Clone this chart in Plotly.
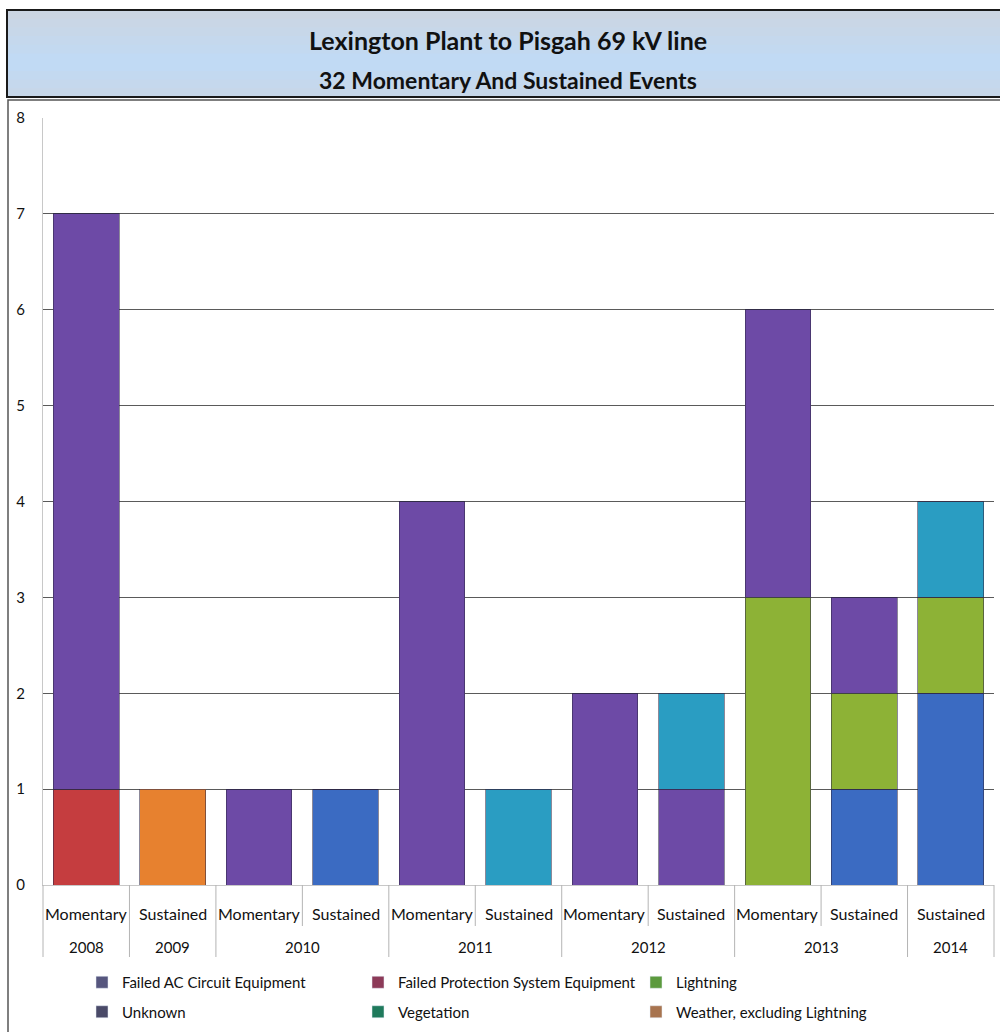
import itertools
import plotly.graph_objects as go

# ---- data -------------------------------------------------------------
years = ["2008", "2009", "2010", "2010", "2011", "2011",
         "2012", "2012", "2013", "2013", "2014"]
event_types = ["Momentary", "Sustained", "Momentary", "Sustained", "Momentary",
               "Sustained", "Momentary", "Sustained", "Momentary", "Sustained",
               "Sustained"]

failed_ac = [0, 0, 0, 1, 0, 0, 0, 0, 0, 1, 2]
failed_protection = [1, 0, 0, 0, 0, 0, 0, 0, 0, 0, 0]
lightning = [0, 0, 0, 0, 0, 0, 0, 0, 3, 1, 1]
unknown = [6, 0, 1, 0, 4, 0, 2, 1, 3, 1, 0]
vegetation = [0, 0, 0, 0, 0, 1, 0, 1, 0, 0, 1]
weather = [0, 1, 0, 0, 0, 0, 0, 0, 0, 0, 0]

cause_names = ["Failed AC Circuit Equipment", "Failed Protection System Equipment",
               "Lightning", "Unknown", "Vegetation", "Weather, excluding Lightning"]
cause_values = [failed_ac, failed_protection, lightning, unknown, vegetation, weather]

y_ticks = [0, 1, 2, 3, 4, 5, 6, 7, 8]

# ---- styling ----------------------------------------------------------
bar_colors = {
    "Failed AC Circuit Equipment": "#3b6bc2",
    "Failed Protection System Equipment": "#c53d3f",
    "Lightning": "#8db236",
    "Unknown": "#6d4aa6",
    "Vegetation": "#2a9dc2",
    "Weather, excluding Lightning": "#e7812f",
}
swatch_colors = {
    "Failed AC Circuit Equipment": "#56567e",
    "Failed Protection System Equipment": "#8c3a58",
    "Lightning": "#5c9a3e",
    "Unknown": "#4a4a68",
    "Vegetation": "#1f7a5c",
    "Weather, excluding Lightning": "#a8744f",
}
legend_columns = [
    ["Failed AC Circuit Equipment", "Unknown"],
    ["Failed Protection System Equipment", "Vegetation"],
    ["Lightning", "Weather, excluding Lightning"],
]
FONT = "Lato"

W, H = 1000, 1032
PLOT_L, PLOT_R, PLOT_T, PLOT_B = 43, 994, 118, 885
plot_h = PLOT_B - PLOT_T
plot_w = PLOT_R - PLOT_L


def py(pixel_y):
    """Figure pixel row -> paper y."""
    return (PLOT_B - pixel_y) / plot_h


def px(pixel_x):
    """Figure pixel column -> paper x."""
    return (pixel_x - PLOT_L) / plot_w


n = len(years)
xpos = list(range(n))

fig = go.Figure()

# stacked bars, one trace per cause
for name, vals in zip(cause_names, cause_values):
    fig.add_trace(go.Bar(
        x=xpos, y=vals, name=name, showlegend=False,
        marker=dict(color=bar_colors[name],
                    line=dict(color="rgba(45,40,70,0.55)", width=1)),
        hoverinfo="name+y",
    ))

# legend entries laid out in three columns
legend_ids = ["legend", "legend2", "legend3"]
for lid, column in zip(legend_ids, legend_columns):
    for name in column:
        fig.add_trace(go.Bar(
            x=[None], y=[None], name=name, legend=lid, legendgroup=name,
            marker=dict(color=swatch_colors[name]), showlegend=True,
        ))

# category labels (first row) and year labels (second row)
annotations = []
for i, t in enumerate(event_types):
    annotations.append(dict(
        x=i, xref="x", y=py(913), yref="paper", text=t, showarrow=False,
        xanchor="center", yanchor="middle",
        font=dict(family=FONT, size=16, color="#111111")))

for yr, grp in itertools.groupby(enumerate(years), key=lambda p: p[1]):
    idx = [g[0] for g in grp]
    annotations.append(dict(
        x=sum(idx) / len(idx), xref="x", y=py(947), yref="paper", text=yr,
        showarrow=False, xanchor="center", yanchor="middle",
        font=dict(family=FONT, size=15, color="#111111")))

# title block
annotations.append(dict(
    x=px(508), xref="paper", y=py(40), yref="paper",
    text="<b>Lexington Plant to Pisgah 69 kV line</b>", showarrow=False,
    xanchor="center", yanchor="middle",
    font=dict(family=FONT, size=25, color="#111111")))
annotations.append(dict(
    x=px(508), xref="paper", y=py(80), yref="paper",
    text="<b>32 Momentary And Sustained Events</b>", showarrow=False,
    xanchor="center", yanchor="middle",
    font=dict(family=FONT, size=23, color="#111111")))

shapes = []

# title box with a soft vertical blue gradient
top_c, mid_c = (204, 213, 224), (192, 218, 246)
bands = 10
box_t, box_b = 10, 97
for k in range(bands):
    f = abs((k + 0.5) / bands - 0.6) / 0.6
    c = tuple(round(m + (t - m) * f) for m, t in zip(mid_c, top_c))
    y0 = box_t + (box_b - box_t) * k / bands
    y1 = box_t + (box_b - box_t) * (k + 1) / bands + 1.5
    shapes.append(dict(type="rect", xref="paper", yref="paper", layer="below",
                       x0=px(7), x1=px(1010), y0=py(y0), y1=py(min(y1, box_b)),
                       fillcolor="rgb(%d,%d,%d)" % c, line=dict(width=0)))
shapes.append(dict(type="rect", xref="paper", yref="paper",
                   x0=px(7), x1=px(1010), y0=py(box_t), y1=py(box_b),
                   line=dict(color="#1a1a1a", width=2), fillcolor="rgba(0,0,0,0)"))

# chart frame below the title
shapes.append(dict(type="rect", xref="paper", yref="paper", layer="below",
                   x0=px(8), x1=px(1010), y0=py(100), y1=py(1040),
                   line=dict(color="#555555", width=1.5), fillcolor="white"))

# category dividers under the axis
year_bounds = {0, n}
for i in range(1, n):
    if years[i] != years[i - 1]:
        year_bounds.add(i)
for b in range(n + 1):
    bottom = 957 if b in year_bounds else 926
    shapes.append(dict(type="line", xref="x domain", yref="paper",
                       x0=b / n, x1=b / n, y0=py(PLOT_B), y1=py(bottom),
                       line=dict(color="#b4b4b4", width=1)))

legend_common = dict(
    orientation="v", xanchor="left", yanchor="top", traceorder="grouped",
    tracegroupgap=7, bgcolor="rgba(0,0,0,0)", itemclick=False,
    font=dict(family=FONT, size=15, color="#111111"),
)
legend_left = [82, 358, 636]
legend_top = 966

fig.update_layout(
    width=W, height=H,
    margin=dict(l=PLOT_L, r=W - PLOT_R, t=PLOT_T, b=H - PLOT_B, pad=0,
                autoexpand=False),
    paper_bgcolor="white", plot_bgcolor="white",
    barmode="stack", bargap=0.24,
    xaxis=dict(range=[-0.5, n - 0.5], showticklabels=False, showgrid=False,
               zeroline=False, showline=True, linecolor="#c8c8c8", linewidth=1,
               fixedrange=True),
    yaxis=dict(range=[0, 8], tickvals=y_ticks, showgrid=True,
               gridcolor="#5a5a5a", gridwidth=1, zeroline=False,
               showline=True, linecolor="#c8c8c8", linewidth=1,
               ticks="", ticklabelstandoff=14,
               tickfont=dict(family=FONT, size=15, color="#111111"),
               fixedrange=True),
    legend=dict(legend_common, x=px(legend_left[0]), y=py(legend_top)),
    legend2=dict(legend_common, x=px(legend_left[1]), y=py(legend_top)),
    legend3=dict(legend_common, x=px(legend_left[2]), y=py(legend_top)),
    annotations=annotations,
    shapes=shapes,
    showlegend=True,
)

fig.write_html("out.html")
